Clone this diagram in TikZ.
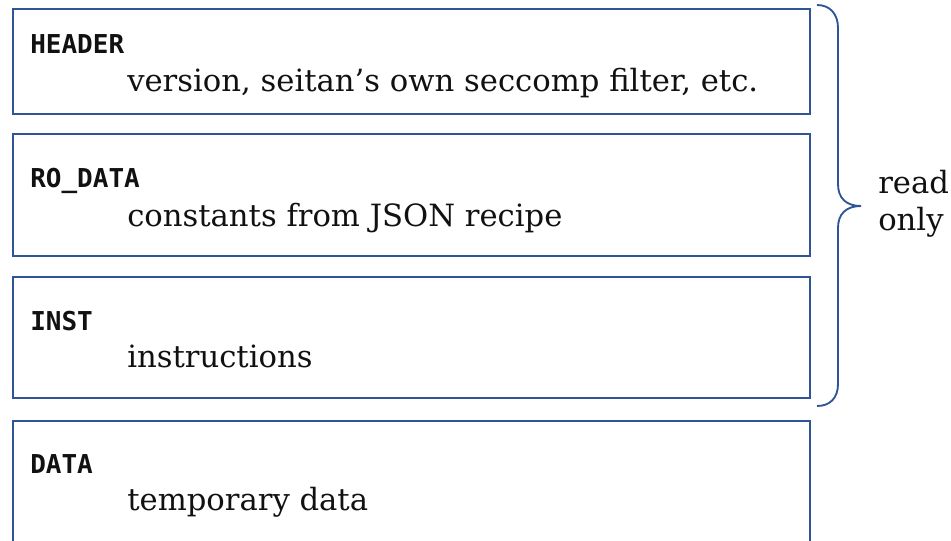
\documentclass[tikz,border=0pt]{standalone}
\usepackage{fontspec}
\setmainfont{DejaVu Serif}
\newfontfamily\labelfont{DejaVu Sans Mono}
\definecolor{boxblue}{HTML}{2F5597}
\definecolor{txt}{HTML}{111111}
\tikzset{
  membox/.style={draw=boxblue, line width=1.4pt, anchor=north west, minimum width=597.75pt, inner sep=0pt},
  seglabel/.style={anchor=base west, inner sep=0pt, text=txt, font=\labelfont\bfseries\fontsize{19.5pt}{22pt}\selectfont},
  segdesc/.style={anchor=base west, inner sep=0pt, text=txt, font=\fontsize{23pt}{27pt}\selectfont},
}
\begin{document}
\begin{tikzpicture}[x=0.75pt, y=-0.75pt]
\useasboundingbox (0,0) rectangle (951,540);
\clip (0,0) rectangle (951,540);
% boxes
\node[membox, minimum height=78.75pt] (header) at (12,8) {};
\node[membox, minimum height=91.5pt] (rodata) at (12,133) {};
\node[membox, minimum height=90.75pt] (inst) at (12,276) {};
\node[membox, minimum height=110pt] (data) at (12,420) {};
% labels
\node[seglabel] (headerlbl) at (30,53) {HEADER};
\node[segdesc] (headerdesc) at (127,91) {version, seitan’s own seccomp filter, etc.};
\node[seglabel] (rodatalbl) at (30,187) {RO\_DATA};
\node[segdesc] (rodatadesc) at (127,226) {constants from JSON recipe};
\node[seglabel] (instlbl) at (30,330) {INST};
\node[segdesc] (instdesc) at (127,367) {instructions};
\node[seglabel] (datalbl) at (30,473) {DATA};
\node[segdesc] (datadesc) at (127,510) {temporary data};
% brace
\coordinate (bt) at (817,5);
\coordinate (bb) at (817,406);
\draw[boxblue, line width=1.4pt] (bt) .. controls (830,5) and (838,14) .. (838,28)
  -- (838,184) .. controls (838,198) and (846,206) .. (861,206)
  .. controls (846,206) and (838,214) .. (838,228)
  -- (838,384) .. controls (838,398) and (830,406) .. (bb);
\node[segdesc] (readtxt) at (878,193) {read};
\node[segdesc] (onlytxt) at (878,230) {only};
\end{tikzpicture}
\end{document}
